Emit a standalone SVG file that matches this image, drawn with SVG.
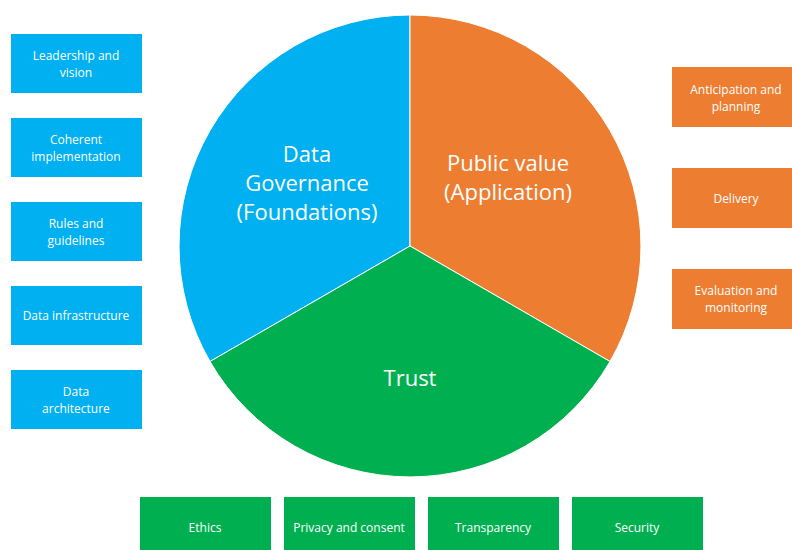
<svg xmlns="http://www.w3.org/2000/svg" width="792" height="550" viewBox="0 0 792 550">
<style>
.b{fill:#00B0F0}.o{fill:#ED7D31}.g{fill:#00B050}
.t{font-family:"Open Sans","Liberation Sans",sans-serif;font-size:12px;fill:#fff;text-anchor:middle}
.p{font-family:"Open Sans","Liberation Sans",sans-serif;font-size:22px;fill:#fff;text-anchor:middle}
.s{stroke:#fff;stroke-width:1}
</style>
<rect width="792" height="550" fill="#fff"/>
<g id="pie">
<path id="governance" class="b s" d="M410,246 L410,15 A231,231 0 0 0 210,361.5 Z"/>
<path id="public-value" class="o s" d="M410,246 L610,361.5 A231,231 0 0 0 410,15 Z"/>
<path id="trust" class="g s" d="M410,246 L210,361.5 A231,231 0 0 0 610,361.5 Z"/>
<text class="p" x="307" y="162">Data</text>
<text class="p" x="307" y="191">Governance</text>
<text class="p" x="307" y="220">(Foundations)</text>
<text class="p" x="508" y="171">Public value</text>
<text class="p" x="508" y="200">(Application)</text>
<text class="p" x="410" y="386">Trust</text>
</g>
<g id="leadership"><rect class="b" x="11" y="34" width="131" height="59"/><text class="t" x="76" y="60">Leadership and</text><text class="t" x="76" y="77">vision</text></g>
<g id="coherent"><rect class="b" x="11" y="118" width="131" height="59"/><text class="t" x="76" y="144">Coherent</text><text class="t" x="76" y="161">implementation</text></g>
<g id="rules"><rect class="b" x="11" y="202" width="131" height="59"/><text class="t" x="76" y="228">Rules and</text><text class="t" x="76" y="245">guidelines</text></g>
<g id="infrastructure"><rect class="b" x="11" y="286" width="131" height="59"/><text class="t" x="76" y="320">Data infrastructure</text></g>
<g id="architecture"><rect class="b" x="11" y="370" width="131" height="59"/><text class="t" x="76" y="396">Data</text><text class="t" x="76" y="413">architecture</text></g>
<g id="anticipation"><rect class="o" x="672" y="67" width="120" height="60"/><text class="t" x="736" y="94">Anticipation and</text><text class="t" x="736" y="111">planning</text></g>
<g id="delivery"><rect class="o" x="672" y="168" width="120" height="60"/><text class="t" x="736" y="203">Delivery</text></g>
<g id="evaluation"><rect class="o" x="672" y="269" width="120" height="60"/><text class="t" x="736" y="295">Evaluation and</text><text class="t" x="736" y="312">monitoring</text></g>
<g id="ethics"><rect class="g" x="140" y="497" width="131" height="60"/><text class="t" x="205" y="532">Ethics</text></g>
<g id="privacy"><rect class="g" x="284" y="497" width="131" height="60"/><text class="t" x="349" y="532">Privacy and consent</text></g>
<g id="transparency"><rect class="g" x="428" y="497" width="131" height="60"/><text class="t" x="493" y="532">Transparency</text></g>
<g id="security"><rect class="g" x="572" y="497" width="131" height="60"/><text class="t" x="637" y="532">Security</text></g>
<g id="connectors"></g>
</svg>
